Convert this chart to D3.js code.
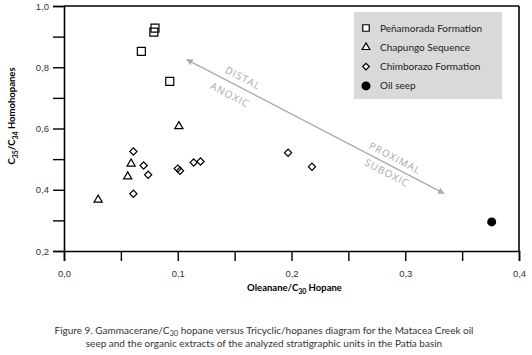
<!DOCTYPE html>
<html>
<head>
<meta charset="utf-8">
<script src="https://cdn.jsdelivr.net/npm/d3@7"></script>
<style>
  body { margin: 0; background: #fff; }
  svg { display: block; font-family: "Lato", "Open Sans", sans-serif; }
</style>
</head>
<body>
<div id="chart"></div>
<script>
// sample values (oleanane/C30 hopane, C35/C34 homohopanes)
const penamorada = [[0.068, 0.852], [0.079, 0.915], [0.080, 0.928], [0.093, 0.754]];
const chapungo = [[0.101, 0.607], [0.059, 0.485], [0.056, 0.443], [0.030, 0.367]];
const chimborazo = [[0.061, 0.525], [0.070, 0.479], [0.074, 0.449], [0.061, 0.387],
  [0.100, 0.469], [0.102, 0.462], [0.114, 0.489], [0.120, 0.492], [0.197, 0.521], [0.218, 0.475]];
const oilSeep = [[0.376, 0.295]];
const legendLabels = ["Peñamorada Formation", "Chapungo Sequence", "Chimborazo Formation", "Oil seep"];
const xTicks = [0, 0.1, 0.2, 0.3, 0.4];
const yTicks = [0.2, 0.4, 0.6, 0.8, 1.0];

const W = 532, H = 355;
const margin = { top: 6, right: 13, bottom: 104, left: 64 };
const width = W - margin.left - margin.right;
const height = H - margin.top - margin.bottom;

const svg = d3.select("#chart").append("svg").attr("width", W).attr("height", H);
const g = svg.append("g").attr("transform", `translate(${margin.left},${margin.top})`);

const x = d3.scaleLinear().domain([0, 0.4]).range([0, width]);
const y = d3.scaleLinear().domain([0.2, 1.0]).range([height, 0]);
const fmt = d => d3.format(".1f")(d).replace(".", ",");

// axes: major labelled ticks plus unlabelled minor ticks in between
const xAxis = g.append("g").attr("transform", `translate(0,${height})`)
  .call(d3.axisBottom(x).tickValues(d3.range(0, 0.401, 0.05)).tickSize(10)
    .tickFormat(d => xTicks.some(t => Math.abs(t - d) < 1e-6) ? fmt(d) : ""));
const yAxis = g.append("g")
  .call(d3.axisLeft(y).tickValues(d3.range(0.2, 1.001, 0.1)).tickSize(11)
    .tickFormat(d => yTicks.some(t => Math.abs(t - d) < 1e-6) ? fmt(d) : ""));
[xAxis, yAxis].forEach(a => {
  a.select(".domain").attr("stroke", "#000").attr("stroke-width", 1.6);
  a.selectAll(".tick line").attr("stroke", "#000").attr("stroke-width", 1.4);
  a.selectAll(".tick text").attr("fill", "#333").style("font-size", "9.5px");
});
xAxis.selectAll(".tick text").attr("dy", "1.35em");
yAxis.selectAll(".tick text").attr("dx", "-0.1em");

// box: top and right edges
g.append("line").attr("x1", 0).attr("x2", width).attr("y1", 0).attr("y2", 0)
  .attr("stroke", "#000").attr("stroke-width", 1.6);
g.append("line").attr("x1", width).attr("x2", width).attr("y1", 0).attr("y2", height)
  .attr("stroke", "#000").attr("stroke-width", 1.6);

// trend arrow
svg.append("defs").append("marker").attr("id", "head")
  .attr("viewBox", "0 0 10 10").attr("refX", 9).attr("refY", 5)
  .attr("markerWidth", 5).attr("markerHeight", 5).attr("orient", "auto-start-reverse")
  .append("path").attr("d", "M0,0L10,5L0,10z").attr("fill", "#aaa");
const a0 = [0.108, 0.825], a1 = [0.334, 0.388];
g.append("line").attr("x1", x(a0[0])).attr("y1", y(a0[1])).attr("x2", x(a1[0])).attr("y2", y(a1[1]))
  .attr("stroke", "#aaa").attr("stroke-width", 1.3)
  .attr("marker-start", "url(#head)").attr("marker-end", "url(#head)");
const ang = Math.atan2(y(a1[1]) - y(a0[1]), x(a1[0]) - x(a0[0])) * 180 / Math.PI;
const arrowText = [["DISTAL", 179, 72], ["ANOXIC", 166, 89], ["PROXIMAL", 331, 152], ["SUBOXIC", 323, 167]];
g.selectAll(".arrow-label").data(arrowText).enter().append("text")
  .attr("transform", d => `translate(${d[1]},${d[2]}) rotate(${ang})`)
  .attr("text-anchor", "middle").attr("dy", "0.35em")
  .attr("fill", "#a8a8a8").style("font-size", "10px").style("letter-spacing", "1px")
  .style("font-family", "'Open Sans', sans-serif")
  .text(d => d[0]);

// markers
const sym = {
  square: d3.symbol().type(d3.symbolSquare).size(64),
  triangle: d3.symbol().type(d3.symbolTriangle2).size(48),
  diamond: d3.symbol().type(d3.symbolSquare).size(26)
};
function drawSeries(data, path, rot) {
  g.append("g").selectAll("path").data(data).enter().append("path")
    .attr("d", path)
    .attr("transform", d => `translate(${x(d[0])},${y(d[1])}) rotate(${rot})`)
    .attr("fill", "none").attr("stroke", "#000").attr("stroke-width", 1.2);
}
drawSeries(penamorada, sym.square(), 0);
drawSeries(chapungo, sym.triangle(), 0);
drawSeries(chimborazo, sym.diamond(), 45);
g.append("g").selectAll("circle").data(oilSeep).enter().append("circle")
  .attr("cx", d => x(d[0])).attr("cy", d => y(d[1])).attr("r", 4.5).attr("fill", "#000");

// legend
const lg = svg.append("g").attr("transform", "translate(354,12)");
lg.append("rect").attr("width", 148).attr("height", 87).attr("fill", "#d9d9d9");
legendLabels.forEach((label, i) => {
  const row = lg.append("g").attr("transform", `translate(12,${16 + i * 19.3})`);
  if (i === 0) row.append("path").attr("d", d3.symbol().type(d3.symbolSquare).size(42)())
    .attr("fill", "#fff").attr("stroke", "#000").attr("stroke-width", 1.2);
  if (i === 1) row.append("path").attr("d", d3.symbol().type(d3.symbolTriangle2).size(42)())
    .attr("fill", "#fff").attr("stroke", "#000").attr("stroke-width", 1.2);
  if (i === 2) row.append("path").attr("d", d3.symbol().type(d3.symbolSquare).size(22)())
    .attr("transform", "rotate(45)")
    .attr("fill", "#fff").attr("stroke", "#000").attr("stroke-width", 1.2);
  if (i === 3) row.append("circle").attr("r", 4.5).attr("fill", "#000");
  row.append("text").attr("x", 14).attr("dy", "0.35em")
    .attr("fill", "#222").style("font-size", "10px").text(label);
});

// axis titles
const xt = svg.append("text").attr("x", margin.left + width / 2 + 3).attr("y", 291)
  .attr("text-anchor", "middle").style("font-size", "9.5px").style("font-weight", "700");
xt.append("tspan").text("Oleanane/C");
xt.append("tspan").attr("dy", 2.5).style("font-size", "7px").text("30");
xt.append("tspan").attr("dy", -2.5).text(" Hopane");

const yt = svg.append("text").attr("transform", "translate(15,116) rotate(-90)")
  .attr("text-anchor", "middle").style("font-size", "9.5px").style("font-weight", "700");
yt.append("tspan").text("C");
yt.append("tspan").attr("dy", 2.5).style("font-size", "7px").text("35");
yt.append("tspan").attr("dy", -2.5).text("/C");
yt.append("tspan").attr("dy", 2.5).style("font-size", "7px").text("34");
yt.append("tspan").attr("dy", -2.5).text(" Homohopanes");

// caption
const cap1 = svg.append("text").attr("x", 264).attr("y", 334).attr("text-anchor", "middle")
  .attr("fill", "#333").style("font-size", "10px");
cap1.append("tspan").text("Figure 9. Gammacerane/C");
cap1.append("tspan").attr("dy", 2).style("font-size", "7.5px").text("30");
cap1.append("tspan").attr("dy", -2).text(" hopane versus Tricyclic/hopanes diagram for the Matacea Creek oil");
svg.append("text").attr("x", 264).attr("y", 347).attr("text-anchor", "middle")
  .attr("fill", "#333").style("font-size", "10px")
  .text("seep and the organic extracts of the analyzed stratigraphic units in the Patía basin");
</script>
</body>
</html>
